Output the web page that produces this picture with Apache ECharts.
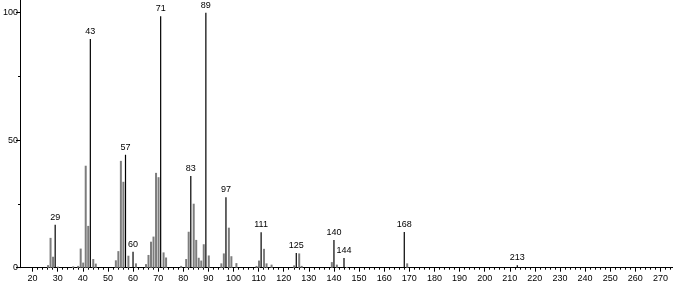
<!DOCTYPE html>
<html>
<head>
<meta charset="utf-8">
<script src="https://cdn.jsdelivr.net/npm/echarts@6/dist/echarts.min.js"></script>
<style>
html,body{margin:0;padding:0;background:#fff;}
#c{width:673px;height:285px;}
</style>
</head>
<body>
<div id="c"></div>
<script>
// Labeled (annotated) peaks: m/z and relative intensity
const labeledMz = [29, 43, 57, 60, 71, 83, 89, 97, 111, 125, 140, 144, 168, 213];
const labeledInt = [16.8, 89.7, 44.3, 6.3, 98.6, 36.0, 100, 27.6, 13.9, 5.8, 10.9, 3.8, 14.0, 1.0];
// Other peaks
const otherMz = [26, 27, 28, 30, 36, 38, 39, 40, 41, 42, 44, 45, 53, 54, 55, 56, 58, 61, 65, 66, 67, 68, 69, 70, 72, 73, 79, 81, 82, 84, 85, 86, 87, 88, 90, 95, 96, 98, 99, 101, 109, 110, 112, 113, 115, 124, 126, 127, 139, 141, 145, 169];
const otherInt = [1.0, 11.7, 4.3, 0.4, 0.5, 0.7, 7.5, 2.0, 40.0, 16.4, 3.4, 1.6, 2.9, 6.5, 41.9, 33.7, 4.7, 1.7, 1.4, 5.0, 10.2, 12.2, 37.2, 35.5, 6.0, 4.0, 0.7, 3.4, 14.1, 25.1, 10.9, 3.9, 2.8, 9.2, 4.8, 1.7, 5.6, 15.7, 4.5, 1.8, 0.7, 2.8, 7.4, 1.7, 1.2, 0.9, 5.6, 0.7, 2.2, 1.2, 0.3, 1.7];
// Axis ticks
const xMajorTicks = [];
for (let v = 20; v <= 270; v += 10) xMajorTicks.push(v);
const xMinorTicks = [];
for (let v = 22; v <= 274; v += 2) if (v % 10 !== 0) xMinorTicks.push(v);
const yMajorTicks = [0, 50, 100];
const yMinorTicks = [25, 75];

const font = "'Liberation Sans Narrow', 'Liberation Sans', sans-serif";
const chart = echarts.init(document.getElementById('c'), null, {renderer: 'canvas'});
const gridDef = {left: 20, right: 0, top: 0, bottom: 17.3};
chart.setOption({
  animation: false,
  grid: gridDef,
  xAxis: [{
    type: 'value', min: 15, max: 275,
    axisLine: {show: true, lineStyle: {color: '#000', width: 1}},
    axisTick: {show: true, length: 4, lineStyle: {color: '#000'}, customValues: xMajorTicks},
    axisLabel: {show: true, color: '#000', fontSize: 9, fontFamily: font, margin: 6, customValues: xMajorTicks},
    splitLine: {show: false}
  }, {
    type: 'value', min: 15, max: 275, position: 'bottom',
    axisLine: {show: false},
    axisTick: {show: true, length: 2, lineStyle: {color: '#000'}, customValues: xMinorTicks},
    axisLabel: {show: false},
    splitLine: {show: false}
  }],
  yAxis: [{
    type: 'value', min: 0, max: 105,
    axisLine: {show: true, lineStyle: {color: '#000', width: 1}},
    axisTick: {show: true, length: 4, lineStyle: {color: '#000'}, customValues: yMajorTicks},
    axisLabel: {show: true, color: '#000', fontSize: 9, fontFamily: font, margin: 2, customValues: yMajorTicks},
    splitLine: {show: false}
  }, {
    type: 'value', min: 0, max: 105, position: 'left',
    axisLine: {show: false},
    axisTick: {show: true, length: 2, lineStyle: {color: '#000'}, customValues: yMinorTicks},
    axisLabel: {show: false},
    splitLine: {show: false}
  }],
  series: [{
    type: 'bar', xAxisIndex: 0, yAxisIndex: 0,
    barWidth: 2, barGap: '-100%',
    itemStyle: {color: '#7d7d7d'},
    data: otherMz.map((m, i) => [m, otherInt[i]])
  }, {
    type: 'bar', xAxisIndex: 0, yAxisIndex: 0,
    barWidth: 1.2, barGap: '-100%',
    itemStyle: {color: '#000'},
    label: {show: true, position: 'top', distance: 3, color: '#000', fontSize: 9, fontFamily: font,
      formatter: p => String(p.value[0])},
    data: labeledMz.map((m, i) => [m, labeledInt[i]])
  }]
});
</script>
</body>
</html>
